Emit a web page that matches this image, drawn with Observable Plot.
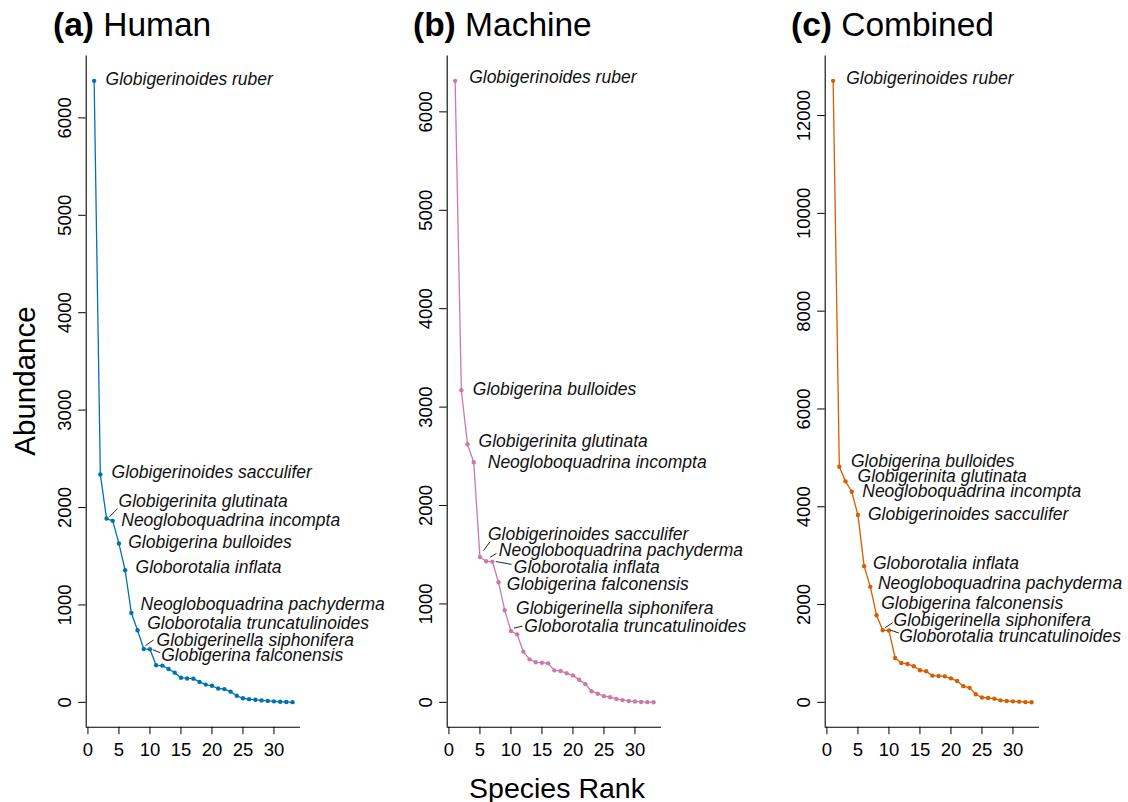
<!DOCTYPE html>
<html>
<head>
<meta charset="utf-8">
<script src="https://cdn.jsdelivr.net/npm/d3@7"></script>
<script src="https://cdn.jsdelivr.net/npm/@observablehq/plot@0.6"></script>
<style>
  body { margin: 0; background: #fff; }
  #wrap { position: relative; width: 1128px; height: 802px; overflow: hidden; background: #fff;
          font-family: "Liberation Sans", Arial, Helvetica, sans-serif; color: #000; }
  .panel { position: absolute; top: 0; width: 360px; }
  .title { position: absolute; top: 7.6px; font-size: 33.5px; line-height: 33.5px; white-space: nowrap; }
  .title b { font-weight: bold; }
  .ylab { position: absolute; left: 24.5px; top: 381px; font-size: 29.5px; line-height: 29.5px; white-space: nowrap;
          transform: translate(-50%, -50%) rotate(-90deg); }
  .xlab { position: absolute; left: 557px; top: 773.5px; font-size: 28.5px; line-height: 28.5px; white-space: nowrap;
          transform: translateX(-50%); }
</style>
</head>
<body>
<div id="wrap"></div>
<script>
// ---------- data ----------
const humanAbundance = [6380, 2340, 1887, 1863, 1630, 1356, 918, 740, 548, 545, 380, 377, 342, 305, 253, 245, 243, 210, 182, 170, 142, 136, 110, 67, 42, 33, 26, 20, 15, 10, 6, 3, 2];
const machineAbundance = [6315, 3171, 2622, 2440, 1477, 1433, 1430, 1220, 935, 725, 691, 515, 437, 407, 403, 396, 325, 319, 295, 274, 230, 185, 113, 88, 63, 52, 34, 23, 14, 9, 4, 2, 1];
const combinedAbundance = [12710, 4819, 4519, 4307, 3830, 2785, 2362, 1782, 1475, 1468, 908, 805, 785, 737, 655, 635, 546, 539, 532, 491, 435, 331, 296, 164, 99, 89, 75, 41, 27, 20, 14, 5, 2];

const humanLabels = ["Globigerinoides ruber", "Globigerinoides sacculifer", "Globigerinita glutinata", "Neogloboquadrina incompta", "Globigerina bulloides", "Globorotalia inflata", "Neogloboquadrina pachyderma", "Globorotalia truncatulinoides", "Globigerinella siphonifera", "Globigerina falconensis"];
const machineLabels = ["Globigerinoides ruber", "Globigerina bulloides", "Globigerinita glutinata", "Neogloboquadrina incompta", "Globigerinoides sacculifer", "Neogloboquadrina pachyderma", "Globorotalia inflata", "Globigerina falconensis", "Globigerinella siphonifera", "Globorotalia truncatulinoides"];
const combinedLabels = ["Globigerinoides ruber", "Globigerina bulloides", "Globigerinita glutinata", "Neogloboquadrina incompta", "Globigerinoides sacculifer", "Globorotalia inflata", "Neogloboquadrina pachyderma", "Globigerina falconensis", "Globigerinella siphonifera", "Globorotalia truncatulinoides"];

const panelTags = ["(a)", "(b)", "(c)"];
const panelNames = ["Human", "Machine", "Combined"];
const xTickValues = [0, 5, 10, 15, 20, 25, 30];
const yTicksHuman = [0, 1000, 2000, 3000, 4000, 5000, 6000];
const yTicksMachine = [0, 1000, 2000, 3000, 4000, 5000, 6000];
const yTicksCombined = [0, 2000, 4000, 6000, 8000, 10000, 12000];

// ---------- layout (pixel offsets of labels / leader lines, not data) ----------
const humanLabelOffsets = [[11.4,-1.3],[11.2,-2],[12,-17],[8.5,-0.7],[9.3,-1.6],[10.4,-3],[9.2,-8.7],[9.7,-7.3],[12.8,-8.7],[11.3,6.3]];
const machineLabelOffsets = [[14,-3],[11.5,-1],[11,-3],[14,0],[8,-23],[12.7,-11],[21.5,5.4],[8.3,2],[11.3,-1.7],[13.4,-5]];
const combinedLabelOffsets = [[13,-2.4],[11.6,-5],[12,-4.6],[10.5,0],[10,-1],[8.8,-2.7],[7.6,-3.4],[4.7,-11.7],[10.8,-10],[10.3,5.7]];
// [label index, x1, y1, x2, y2] relative to the point, in pixels
const humanLeaders = [[2,3.3,-2,10.7,-9.7],[8,2.1,-3.7,9.5,-8.7],[9,3.3,0.6,9.9,3.3]];
const machineLeaders = [[4,3.9,-6.7,9.9,-15],[5,4.3,-4.3,10,-7.7],[6,3.8,0,18.8,2.7],[9,3.4,-3,11.1,-4.7]];
const combinedLeaders = [[8,2.8,-2.7,9.5,-7.3],[9,2,-0.3,9.6,2.4]];

const panelLefts = [0, 360.8, 739.3];
const colors = ["#0072B2", "#CC79A7", "#D55E00"];

const segShape = { draw(context, l) { context.moveTo(0, 0); context.lineTo(0, -l); } };

function makePanel(values, labels, labelOffsets, leaders, yTicks, color) {
  const data = values.map((v, i) => ({rank: i + 1, value: v}));
  const n = values.length;
  const vmax = d3.max(values);
  const xDomain = [1 - 0.04 * (n - 1), n + 0.04 * (n - 1)];
  const yDomain = [-0.04 * vmax, vmax * 1.04];
  const marks = [
    Plot.ruleX([xDomain[0]], {stroke: "#000", strokeWidth: 1.1}),
    Plot.ruleY([yDomain[0]], {stroke: "#000", strokeWidth: 1.1}),
    Plot.axisY({ticks: yTicks, tickSize: 7.5, tickPadding: 8, tickRotate: -90, fontSize: 18.5, label: null, tickFormat: d => String(d)}),
    Plot.axisX({ticks: xTickValues, tickSize: 7.5, tickPadding: 7.7, fontSize: 18.5, label: null, tickFormat: d => String(d)}),
    Plot.line(data, {x: "rank", y: "value", stroke: color, strokeWidth: 1.3}),
    Plot.dot(data, {x: "rank", y: "value", r: 2.2, fill: color, stroke: "none"})
  ];
  leaders.forEach(([k, x1, y1, x2, y2]) => {
    const ddx = x2 - x1, ddy = y2 - y1;
    marks.push(Plot.vector([data[k]], {
      x: "rank", y: "value", dx: x1, dy: y1, anchor: "start",
      length: Math.hypot(ddx, ddy), rotate: Math.atan2(ddx, -ddy) * 180 / Math.PI,
      shape: segShape, stroke: "#000", strokeWidth: 0.8
    }));
  });
  labels.forEach((lab, k) => {
    marks.push(Plot.text([data[k]], {
      x: "rank", y: "value", text: () => lab, dx: labelOffsets[k][0], dy: labelOffsets[k][1],
      textAnchor: "start", lineAnchor: "middle", fontStyle: "italic", fontSize: 17.5, fill: "#111"
    }));
  });
  return Plot.plot({
    width: 360, height: 770,
    marginLeft: 85.7, marginRight: 60, marginTop: 55.5, marginBottom: 43.3,
    x: {domain: xDomain},
    y: {domain: yDomain},
    style: {fontFamily: "'Liberation Sans', Arial, Helvetica, sans-serif", background: "transparent", overflow: "visible", color: "#000"},
    marks
  });
}

const wrap = document.getElementById("wrap");
const specs = [
  [humanAbundance, humanLabels, humanLabelOffsets, humanLeaders, yTicksHuman],
  [machineAbundance, machineLabels, machineLabelOffsets, machineLeaders, yTicksMachine],
  [combinedAbundance, combinedLabels, combinedLabelOffsets, combinedLeaders, yTicksCombined]
];
specs.forEach((s, i) => {
  const div = document.createElement("div");
  div.className = "panel";
  div.style.left = panelLefts[i] + "px";
  div.appendChild(makePanel(s[0], s[1], s[2], s[3], s[4], colors[i]));
  wrap.appendChild(div);
});
const titleLefts = [53, 413, 791];
panelTags.forEach((t, i) => {
  const d = document.createElement("div");
  d.className = "title";
  d.style.left = titleLefts[i] + "px";
  d.innerHTML = "<b>" + t + "</b> " + panelNames[i];
  wrap.appendChild(d);
});
const yl = document.createElement("div"); yl.className = "ylab"; yl.textContent = "Abundance"; wrap.appendChild(yl);
const xl = document.createElement("div"); xl.className = "xlab"; xl.textContent = "Species Rank"; wrap.appendChild(xl);
</script>
</body>
</html>
